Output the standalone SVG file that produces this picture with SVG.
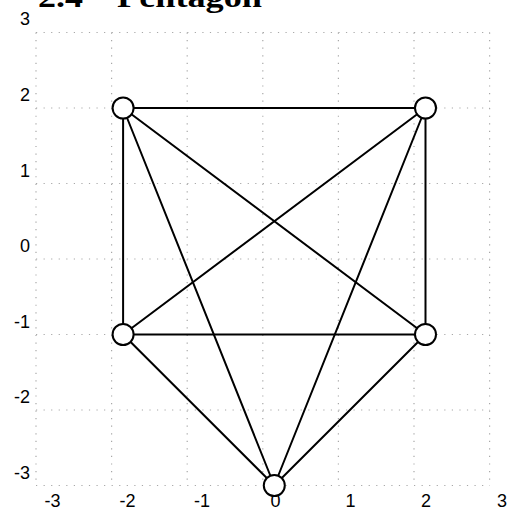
<svg xmlns="http://www.w3.org/2000/svg" width="512" height="519" viewBox="0 0 512 519">
<style>
.grid line{stroke:#a8a8a8;stroke-width:1.2;stroke-dasharray:1.2 6.36;fill:none}
.edges line{stroke:#000;stroke-width:2;stroke-linecap:round}
.node circle{fill:#fff;stroke:#000;stroke-width:2}
.lab{font-family:"Liberation Sans",Arial,sans-serif;font-size:18px;fill:#000}
.title{font-family:"Liberation Serif","Times New Roman",serif;font-weight:bold;font-size:30px;fill:#000}
</style>
<rect width="512" height="519" fill="#fff"/>
<g class="title">
<text x="38" y="7" textLength="45" lengthAdjust="spacingAndGlyphs">2.4</text>
<text x="117" y="7" textLength="145" lengthAdjust="spacingAndGlyphs">Pentagon</text>
</g>
<g class="grid">
<line x1="36" y1="32.5" x2="490" y2="32.5"/>
<line x1="36" y1="108" x2="490" y2="108"/>
<line x1="36" y1="183.5" x2="490" y2="183.5"/>
<line x1="36" y1="259" x2="490" y2="259"/>
<line x1="36" y1="334.5" x2="490" y2="334.5"/>
<line x1="36" y1="410" x2="490" y2="410"/>
<line x1="36" y1="485.5" x2="490" y2="485.5"/>
<line x1="36" y1="32.5" x2="36" y2="485.5"/>
<line x1="111.6" y1="32.5" x2="111.6" y2="485.5"/>
<line x1="187.2" y1="32.5" x2="187.2" y2="485.5"/>
<line x1="262.8" y1="32.5" x2="262.8" y2="485.5"/>
<line x1="338.4" y1="32.5" x2="338.4" y2="485.5"/>
<line x1="414" y1="32.5" x2="414" y2="485.5"/>
<line x1="489.6" y1="32.5" x2="489.6" y2="485.5"/>
</g>
<g class="lab" text-anchor="end">
<text x="30" y="25">3</text>
<text x="30" y="101">2</text>
<text x="30" y="177">1</text>
<text x="30" y="252">0</text>
<text x="30" y="328">-1</text>
<text x="30" y="403">-2</text>
<text x="30" y="479">-3</text>
</g>
<g class="lab" text-anchor="middle">
<text x="52.5" y="507">-3</text>
<text x="127.5" y="507">-2</text>
<text x="202" y="507">-1</text>
<text x="275.5" y="507">0</text>
<text x="350.5" y="507">1</text>
<text x="426" y="507">2</text>
<text x="502" y="507">3</text>
</g>
<g class="edges" id="connectors">
<line x1="123.1" y1="108" x2="425.5" y2="108"/>
<line x1="123.1" y1="108" x2="123.1" y2="334.5"/>
<line x1="123.1" y1="108" x2="425.5" y2="334.5"/>
<line x1="123.1" y1="108" x2="274.3" y2="485.5"/>
<line x1="425.5" y1="108" x2="425.5" y2="334.5"/>
<line x1="425.5" y1="108" x2="123.1" y2="334.5"/>
<line x1="425.5" y1="108" x2="274.3" y2="485.5"/>
<line x1="123.1" y1="334.5" x2="425.5" y2="334.5"/>
<line x1="123.1" y1="334.5" x2="274.3" y2="485.5"/>
<line x1="425.5" y1="334.5" x2="274.3" y2="485.5"/>
</g>
<g id="n1" class="node"><circle cx="123.1" cy="108" r="10.5"/></g>
<g id="n2" class="node"><circle cx="425.5" cy="108" r="10.5"/></g>
<g id="n3" class="node"><circle cx="123.1" cy="334.5" r="10.5"/></g>
<g id="n4" class="node"><circle cx="425.5" cy="334.5" r="10.5"/></g>
<g id="n5" class="node"><circle cx="274.3" cy="485.5" r="10.5"/></g>
</svg>
